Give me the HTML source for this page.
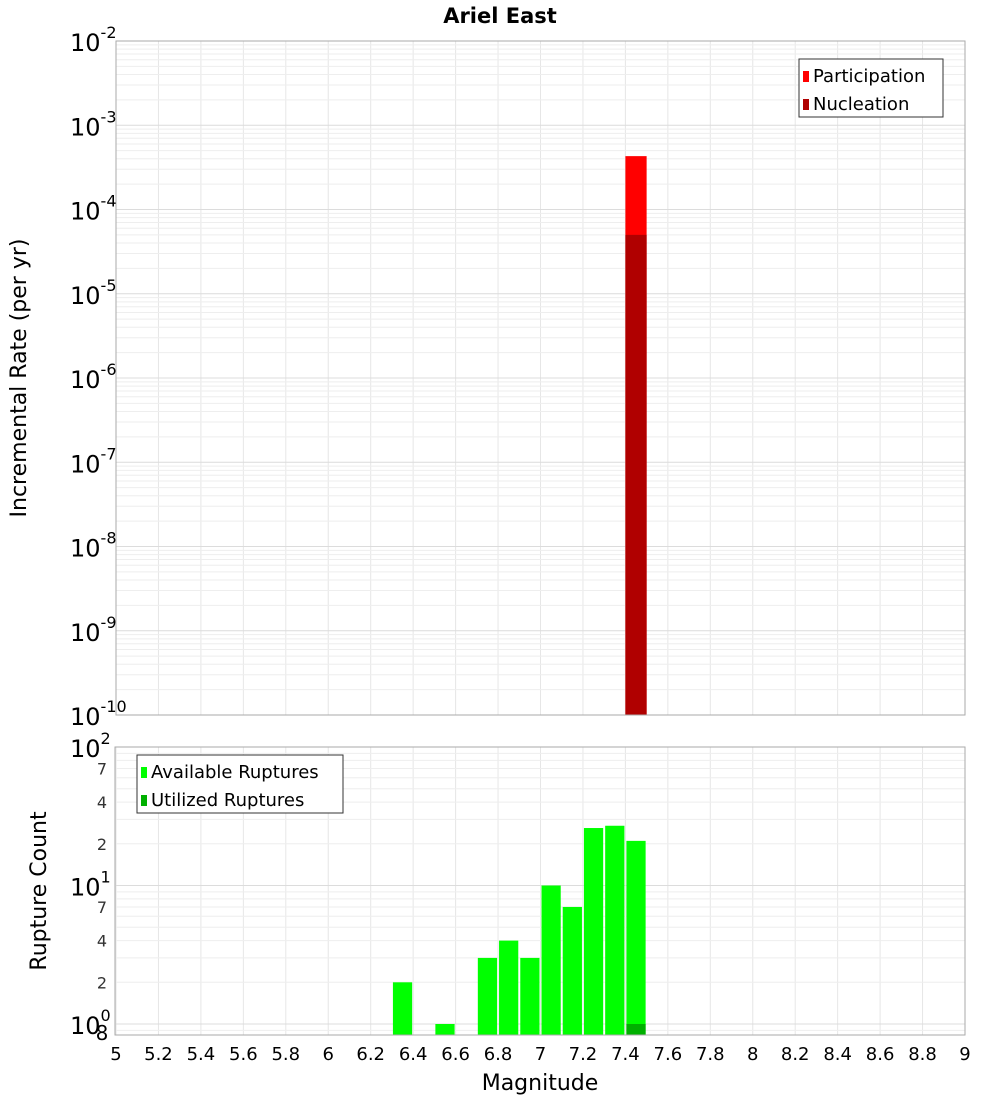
<!DOCTYPE html>
<html><head><meta charset="utf-8"><style>
body{margin:0;background:#fff;width:1000px;height:1100px;overflow:hidden;font-family:"DejaVu Sans","Liberation Sans",sans-serif}
</style></head><body>
<svg id="chart" width="1000" height="1100" xmlns="http://www.w3.org/2000/svg" font-family="DejaVu Sans, Liberation Sans, sans-serif">
<text x="500" y="23" text-anchor="middle" font-size="21" font-weight="bold">Ariel East</text>
<g id="topg"></g><g id="botg"></g>
<text transform="translate(26,378) rotate(-90)" text-anchor="middle" font-size="22">Incremental Rate (per yr)</text>
<text transform="translate(46,891) rotate(-90)" text-anchor="middle" font-size="22">Rupture Count</text>
<text x="540" y="1090" text-anchor="middle" font-size="22">Magnitude</text>
</svg>
<script>
const topMags=[7.45];
const participation=[4.3e-4];
const nucleation=[5e-5];
const botMags=[6.35,6.55,6.75,6.85,6.95,7.05,7.15,7.25,7.35,7.45];
const available=[2,1,3,4,3,10,7,26,27,21];
const utilMags=[7.45];
const utilized=[1];
const xTicks=[5,5.2,5.4,5.6,5.8,6,6.2,6.4,6.6,6.8,7,7.2,7.4,7.6,7.8,8,8.2,8.4,8.6,8.8,9];
const topDecades=[-2,-3,-4,-5,-6,-7,-8,-9,-10];
const botMinorLabels=[2,4,7];

const NS='http://www.w3.org/2000/svg';
const L=116,R=965;
const x=m=>L+(m-5)/4*(R-L);
const T0=41,T1=715; const yT=v=>T0+(-2-Math.log10(v))*(T1-T0)/8;
const B0=747,B1=1035,BD=138.5; const yB=v=>B0+(2-Math.log10(v))*BD;
function el(p,t,a,txt){const e=document.createElementNS(NS,t);for(const k in a)e.setAttribute(k,a[k]);if(txt!==undefined)e.textContent=txt;p.appendChild(e);return e;}
const gTop=document.getElementById('topg'),gBot=document.getElementById('botg');

function grid(g,y0,y1,yf,decs){
  xTicks.forEach(t=>{const l=el(g,'line',{x1:x(t),x2:x(t),y1:y0,y2:y1,stroke:'#e6e6e6'});
  
  });
  decs.forEach(d=>{for(let k=1;k<10;k++){const yy=yf(k*Math.pow(10,d));if(yy<y0-0.5||yy>y1+0.5)continue;
    const l=el(g,'line',{x1:L,x2:R,y1:yy,y2:yy,stroke:k==1?'#dcdcdc':'#eeeeee'});
    
    }});
}
grid(gTop,T0,T1,yT,[-10,-9,-8,-7,-6,-5,-4,-3,-2]);
grid(gBot,B0,B1,yB,[-1,0,1,2]);

participation.forEach((v,i)=>{const r=el(gTop,'rect',{x:x(topMags[i]-0.05),width:x(5.1)-x(5),y:yT(v),height:T1-yT(v),fill:'#ff0000'});

});
nucleation.forEach((v,i)=>{const r=el(gTop,'rect',{x:x(topMags[i]-0.05),width:x(5.1)-x(5),y:yT(v),height:T1-yT(v),fill:'#b00000'});

});
available.forEach((v,i)=>{const r=el(gBot,'rect',{x:x(botMags[i]-0.05)+1,width:x(5.1)-x(5)-2,y:yB(v),height:B1-yB(v),fill:'#00ff00'});

});
utilized.forEach((v,i)=>{const r=el(gBot,'rect',{x:x(utilMags[i]-0.05)+1,width:x(5.1)-x(5)-2,y:yB(v),height:B1-yB(v),fill:'#00b000'});

});

let f=el(gTop,'rect',{x:L,y:T0,width:R-L,height:T1-T0,fill:'none',stroke:'#aaa'});


f=el(gBot,'rect',{x:L-1,y:B0,width:R-L+1,height:B1-B0,fill:'none',stroke:'#aaa'});



topDecades.forEach(d=>{const yy=yT(Math.pow(10,d));const t=el(gTop,'text',{x:70,y:yy+10,'font-size':24});


t.textContent='10';el(t,'tspan',{dy:-13,'font-size':16},String(d));});
[2,1,0].forEach(d=>{const yy=yB(Math.pow(10,d));const t=el(gBot,'text',{x:70,y:yy+10,'font-size':24});


t.textContent='10';el(t,'tspan',{dy:-13,'font-size':16},String(d));});
[1,0].forEach(d=>botMinorLabels.forEach(k=>{const t=el(gBot,'text',{x:102,y:yB(k*Math.pow(10,d))+6,'text-anchor':'middle','font-size':16,fill:'#333'},String(k));

}));
let t8=el(gBot,'text',{x:102,y:1040,'text-anchor':'middle','font-size':20},'8');


xTicks.forEach(v=>{const t=el(gBot,'text',{x:x(v),y:1060,'text-anchor':'middle','font-size':18},String(v));

});

function legend(g,x0,y0,w,items,name){const lg=el(g,'g',{});


el(lg,'rect',{x:x0,y:y0,width:w,height:58,fill:'#fff',stroke:'#333'});
items.forEach((it,i)=>{el(lg,'rect',{x:x0+4,y:y0+12+i*28,width:6,height:11,fill:it[1]});
el(lg,'text',{x:x0+14,y:y0+23+i*28,'font-size':18},it[0]);});}
legend(gTop,799,59,144,[['Participation','#ff0000'],['Nucleation','#b00000']],'top-legend');
legend(gBot,137,755,206,[['Available Ruptures','#00ff00'],['Utilized Ruptures','#00b000']],'bottom-legend');
</script>
</body></html>
